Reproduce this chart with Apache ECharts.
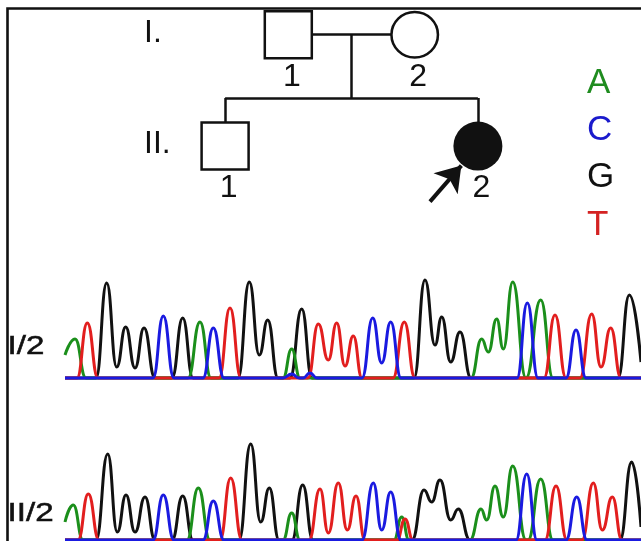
<!DOCTYPE html>
<html>
<head>
<meta charset="utf-8">
<script src="https://cdn.jsdelivr.net/npm/echarts@6.0.0/dist/echarts.min.js"></script>
<style>
  html, body { margin: 0; padding: 0; background: #fff; }
  #chart { width: 641px; height: 541px; }
</style>
</head>
<body>
<div id="chart"></div>
<script>
// ---------------- DATA ----------------
// Pedigree individuals
const pedId         = ['I-1', 'I-2', 'II-1', 'II-2'];
const pedGeneration = [1, 1, 2, 2];
const pedSlot       = [-1, 1, -2, 2];
const pedSex        = ['M', 'F', 'M', 'F'];
const pedAffected   = [false, false, false, true];
const pedNumber     = ['1', '2', '1', '2'];
const generationLabels = ['I.', 'II.'];
const probandId = 'II-2';

// Base legend
const bases = ['A', 'C', 'G', 'T'];

// Chromatogram sample labels
const traceLabels = ['I/2', 'II/2'];

// Chromatogram traces: [scan position, signal intensity]
const traceI2_A = [[0,23],[10,39],[21,0],[123,0],[135,56],[146,0],[218,0],[226.7,29],[235,0],[406,0],[416.7,39],[423.3,26],[431.7,59],[438.3,29],[447.7,96],[461,0],[475.7,78],[488,0],[576,0]];
const traceI2_C = [[0,0],[88,0],[98.3,62],[109,0],[138,0],[148.3,50],[159,0],[218,0],[226.7,4],[234,0],[238,0],[245,5],[252,0],[297,0],[307.7,60],[316.7,15],[325.7,56],[336,0],[452,0],[462.3,75],[473,0],[501,0],[511,48],[521,0],[576,0]];
const traceI2_G = [[0,0],[31,0],[41.7,95],[51.7,11],[60.7,51],[70,10],[79,50],[90,0],[107,0],[117.7,60],[128,0],[173,0],[184.3,96],[194.3,23],[202.7,58],[213,0],[225,0],[236.7,69],[247,0],[349,0],[360,98],[370,33],[376.7,61],[385.7,16],[395,46],[406,0],[553,0],[564.3,83],[576,16]];
const traceI2_T = [[0,0],[12,0],[22.3,55],[33,0],[154,0],[165,70],[176,0],[243,0],[253.3,54],[263.3,18],[271.7,55],[280,12],[288.3,42],[297,0],[328,0],[339.3,56],[350,0],[479,0],[490,63],[501,0],[515,0],[526.7,64],[536,11],[545.7,50],[556,0],[576,0]];

const traceII2_A = [[0,18],[8.3,35],[18,0],[122,0],[133.3,52],[145,0],[218,0],[226.7,27],[235,0],[329,0],[336.7,23],[344,0],[405,0],[416,31],[421.7,20],[430,54],[438.3,23],[447.7,74],[461,0],[463,0],[475.7,61],[488,0],[576,0]];
const traceII2_C = [[0,0],[88,0],[98.3,45],[109,0],[138,0],[148.3,39],[159,0],[297,0],[308.3,57],[316.7,10],[325.7,48],[336,0],[451,0],[461.7,66],[472,0],[501,0],[511.7,43],[522,0],[576,0]];
const traceII2_G = [[0,0],[31,0],[42.7,86],[52.3,8],[61,45],[70,8],[80,43],[90,0],[107,0],[117.7,44],[128,0],[174,0],[185.7,96],[195.7,18],[204.3,52],[214,0],[227,0],[237.7,55],[248,0],[347,0],[359,50],[366.7,38],[375,60],[385.7,20],[393.3,31],[405,0],[555,0],[566.7,78],[576,13]];
const traceII2_T = [[0,0],[13,0],[23.3,46],[34,0],[155,0],[165.7,62],[177,0],[244,0],[255,51],[263.3,7],[273.3,57],[282.3,10],[291,44],[300,0],[332,0],[340,21],[348,0],[480,0],[491,54],[502,0],[517,0],[528.3,57],[537.3,10],[547.3,43],[557,0],[576,0]];

// ---------------- STYLE / LAYOUT ----------------
const FONT = "'Liberation Sans', Arial, Helvetica, sans-serif";
const traceColor  = { A: '#1b8f1b', C: '#1a1ae0', G: '#111111', T: '#e21e1e' };
const letterColor = { A: '#1f8c1f', C: '#1a1acc', G: '#111111', T: '#d42222' };
const SIB_Y = 1.569;   // sibship line level between generations (axis units)

const traces = [
  { A: traceI2_A, C: traceI2_C, G: traceI2_G, T: traceI2_T },
  { A: traceII2_A, C: traceII2_C, G: traceII2_G, T: traceII2_T }
];

const chart = echarts.init(document.getElementById('chart'), null, { renderer: 'canvas' });

// Pedigree connecting lines
const gen1 = pedSlot.filter((s, i) => pedGeneration[i] === 1);
const gen2 = pedSlot.filter((s, i) => pedGeneration[i] === 2);
const mid = (Math.min(...gen1) + Math.max(...gen1)) / 2;
const pedLines = [
  { coords: [[Math.min(...gen1), 1], [Math.max(...gen1), 1]] },
  { coords: [[mid, 1], [mid, SIB_Y]] },
  { coords: [[Math.min(...gen2), SIB_Y], [Math.max(...gen2), SIB_Y]] }
].concat(gen2.map(s => ({ coords: [[s, SIB_Y], [s, 2]] })));

// Proband arrow (offset from proband symbol)
const pIdx = pedId.indexOf(probandId);
const px = pedSlot[pIdx], py = pedGeneration[pIdx];
const arrowLine = { coords: [[px - 0.758, py + 0.50], [px - 0.262, py + 0.176]] };

const pedPoints = pedId.map((id, i) => {
  const male = pedSex[i] === 'M';
  return {
    value: [pedSlot[i], pedGeneration[i]],
    name: pedNumber[i],
    symbol: male ? 'rect' : 'circle',
    symbolSize: male ? 47 : (pedAffected[i] ? [49, 49] : [46.5, 45.5]),
    itemStyle: {
      color: pedAffected[i] ? '#111' : '#fff',
      borderColor: '#111',
      borderWidth: pedAffected[i] ? 0 : 2.5,
      opacity: 1
    }
  };
});

const series = [
  {
    type: 'lines', coordinateSystem: 'cartesian2d', xAxisIndex: 0, yAxisIndex: 0,
    data: pedLines, z: 1, silent: true,
    lineStyle: { color: '#111', width: 2.5, opacity: 1 }, symbol: 'none'
  },
  {
    type: 'lines', coordinateSystem: 'cartesian2d', xAxisIndex: 0, yAxisIndex: 0,
    data: [arrowLine], z: 3, silent: true,
    symbol: ['none', 'arrow'], symbolSize: [15, 24],
    lineStyle: { color: '#111', width: 4, opacity: 1 }
  },
  {
    type: 'scatter', xAxisIndex: 0, yAxisIndex: 0, z: 2, silent: true,
    data: pedPoints,
    itemStyle: { opacity: 1 },
    label: {
      show: true, position: 'inside', offset: [3.5, 42.5],
      formatter: p => p.name, fontSize: 32, color: '#111', fontFamily: FONT
    }
  },
  {
    type: 'scatter', xAxisIndex: 0, yAxisIndex: 0, z: 2, silent: true,
    symbolSize: 0, itemStyle: { opacity: 1 },
    data: generationLabels.map((g, i) => ({ value: [-3.283, i + 1], name: g })),
    label: {
      show: true, position: 'right', distance: 0, offset: [0, -1.5],
      formatter: p => p.name, fontSize: 32, color: '#111', fontFamily: FONT
    }
  }
];

traces.forEach((tr, gi) => {
  ['G', 'A', 'T', 'C'].forEach(b => {
    series.push({
      name: b, type: 'line', xAxisIndex: gi + 1, yAxisIndex: gi + 1,
      data: tr[b], symbol: 'none', showSymbol: false,
      smooth: 0.5, smoothMonotone: 'x', clip: false, silent: true,
      color: traceColor[b],
      lineStyle: { color: traceColor[b], width: 3 }
    });
  });
});

const option = {
  animation: false,
  backgroundColor: '#fff',
  grid: [
    { left: 35.5, top: 6.9, width: 600.4, height: 205.9 },
    { left: 65, top: 278, width: 576, height: 100 },
    { left: 65, top: 440, width: 576, height: 100 }
  ],
  xAxis: [
    { type: 'value', gridIndex: 0, min: -5, max: 4.5, show: false },
    { type: 'value', gridIndex: 1, min: 0, max: 576, show: false },
    { type: 'value', gridIndex: 2, min: 0, max: 576, show: false }
  ],
  yAxis: [
    { type: 'value', gridIndex: 0, min: 0.75, max: 2.6, inverse: true, show: false },
    { type: 'value', gridIndex: 1, min: 0, max: 100, show: false },
    { type: 'value', gridIndex: 2, min: 0, max: 100, show: false }
  ],
  legend: {
    orient: 'vertical', left: 582, top: 65.5, padding: 0,
    itemWidth: 0, itemHeight: 35, itemGap: 12.4, icon: 'rect',
    selectedMode: false,
    data: bases.map(b => ({ name: b, textStyle: { color: letterColor[b] } })),
    textStyle: { fontSize: 35, lineHeight: 35, fontFamily: FONT, padding: 0 }
  },
  graphic: [
    {
      type: 'rect', silent: true, z: 0,
      shape: { x: 7.5, y: 8.5, width: 700, height: 600 },
      style: { fill: 'none', stroke: '#111', lineWidth: 2.6 }
    }
  ].concat(traceLabels.map((t, i) => ({
    type: 'text', silent: true, z: 10,
    x: 7.5, y: i === 0 ? 347 : 514, scaleX: 1.3,
    style: { text: t, fontSize: 25.5, fontFamily: FONT, fill: '#111', stroke: '#111', lineWidth: 0.5, textAlign: 'left', textVerticalAlign: 'middle' }
  }))),
  series: series
};

chart.setOption(option);
</script>
</body>
</html>
